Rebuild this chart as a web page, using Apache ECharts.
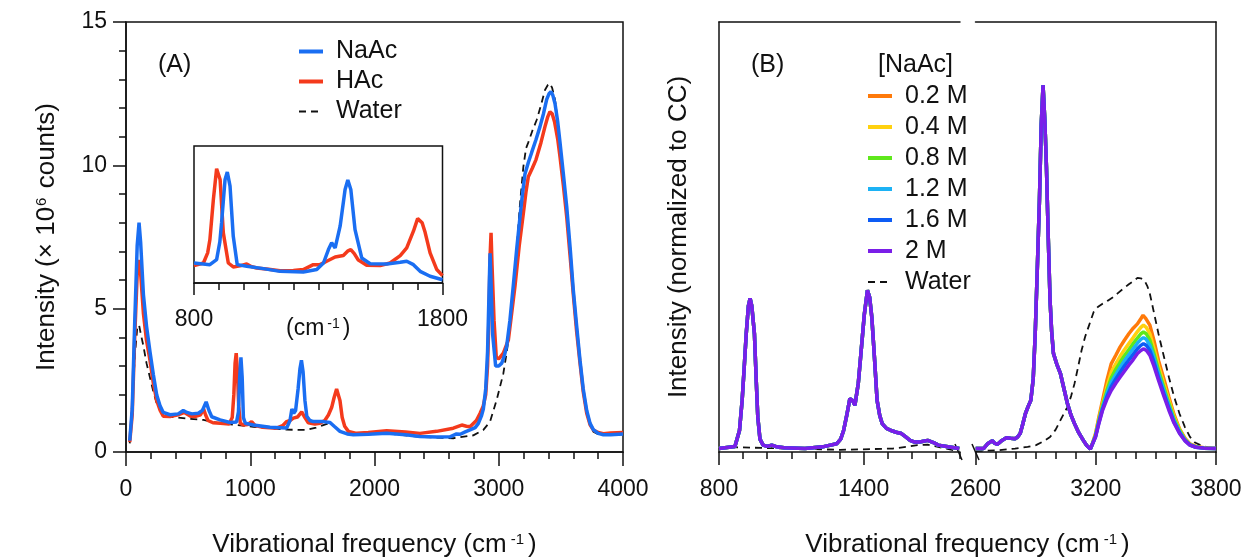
<!DOCTYPE html>
<html><head><meta charset="utf-8">
<script src="https://cdn.jsdelivr.net/npm/echarts@6/dist/echarts.min.js"></script>
<style>html,body{margin:0;padding:0;background:#fff}#c{width:1249px;height:560px}</style>
</head><body><div id="c"></div><script>
// ---------- Panel A: raw spectra [frequency cm-1, intensity x10^6 counts] ----------
const naacA = [[30,0.4],[50,1.5],[70,4.5],[90,7.2],[105,8.0],[118,7.3],[140,5.5],[165,4.4],[193,3.5],[220,2.7],[247,2.0],[275,1.6],[300,1.38],[354,1.3],[420,1.33],[461,1.45],[490,1.38],[530,1.33],[582,1.35],[615,1.45],[645,1.75],[668,1.45],[690,1.23],[757,1.12],[837,1.03],[890,1.05],[905,1.4],[915,2.6],[925,3.3],[935,2.6],[945,1.2],[960,1.0],[1025,0.94],[1159,0.86],[1293,0.84],[1320,1.1],[1335,1.5],[1350,1.35],[1365,1.45],[1385,2.2],[1400,2.9],[1412,3.2],[1425,2.8],[1440,1.8],[1455,1.25],[1480,1.1],[1508,1.06],[1588,1.06],[1642,1.03],[1680,0.88],[1722,0.72],[1780,0.63],[1830,0.6],[1950,0.62],[2098,0.65],[2250,0.6],[2366,0.54],[2500,0.52],[2608,0.53],[2660,0.63],[2690,0.62],[2730,0.7],[2769,0.77],[2810,0.85],[2836,1.0],[2860,1.25],[2876,1.5],[2895,2.2],[2910,3.5],[2922,5.6],[2930,6.93],[2938,5.9],[2951,4.1],[2975,3.0],[3000,3.0],[3024,3.1],[3045,3.35],[3064,3.7],[3090,4.6],[3117,5.8],[3145,7.1],[3171,8.2],[3191,9.0],[3211,9.7],[3238,10.1],[3265,10.45],[3300,10.9],[3332,11.35],[3360,11.8],[3386,12.3],[3405,12.5],[3420,12.57],[3435,12.45],[3453,12.15],[3475,11.5],[3493,10.8],[3520,9.7],[3547,8.56],[3575,7.1],[3600,5.65],[3627,4.4],[3654,3.2],[3680,2.2],[3708,1.45],[3735,1.0],[3761,0.78],[3800,0.65],[3842,0.6],[3900,0.6],[4000,0.63]];
const hacA = [[30,0.35],[50,1.3],[70,4.0],[90,6.2],[108,6.7],[120,6.1],[140,4.84],[165,3.9],[193,3.2],[220,2.4],[247,1.8],[275,1.45],[300,1.25],[354,1.24],[420,1.3],[470,1.38],[520,1.25],[560,1.24],[600,1.3],[625,1.5],[640,1.3],[660,1.1],[700,1.02],[760,1.0],[830,0.98],[855,1.2],[868,2.0],[878,3.1],[887,3.45],[897,2.8],[907,1.6],[920,1.0],[944,0.94],[980,0.96],[1011,1.06],[1040,0.92],[1100,0.86],[1213,0.83],[1260,0.92],[1293,1.06],[1320,1.1],[1347,1.18],[1380,1.22],[1414,1.4],[1440,1.2],[1467,1.02],[1520,0.98],[1561,1.0],[1600,1.1],[1629,1.29],[1655,1.55],[1675,1.9],[1695,2.2],[1708,2.2],[1722,1.8],[1740,1.2],[1760,0.9],[1790,0.72],[1856,0.65],[1950,0.68],[2098,0.74],[2250,0.7],[2366,0.65],[2500,0.72],[2634,0.83],[2702,0.94],[2740,0.9],[2769,0.88],[2820,1.1],[2850,1.35],[2875,1.6],[2895,2.0],[2910,3.0],[2920,4.5],[2930,6.8],[2938,7.65],[2946,6.5],[2962,4.6],[2980,3.3],[3000,3.25],[3037,3.45],[3077,3.9],[3100,4.7],[3131,5.8],[3165,7.2],[3198,8.33],[3220,9.1],[3238,9.6],[3270,9.9],[3300,10.2],[3340,10.8],[3372,11.35],[3395,11.7],[3412,11.87],[3430,11.8],[3450,11.5],[3475,10.9],[3493,10.3],[3520,9.3],[3547,8.2],[3575,6.8],[3600,5.5],[3627,4.2],[3654,3.1],[3680,2.1],[3708,1.35],[3735,0.95],[3761,0.77],[3800,0.68],[3842,0.64],[3900,0.66],[4000,0.68]];
const waterA = [[30,0.3],[50,1.8],[72,3.4],[90,4.3],[105,4.43],[120,4.1],[140,3.7],[165,3.1],[193,2.6],[220,2.1],[247,1.7],[275,1.45],[300,1.3],[380,1.22],[488,1.17],[622,1.12],[757,1.0],[1025,0.88],[1293,0.78],[1450,0.77],[1530,0.85],[1588,0.94],[1642,1.02],[1690,0.85],[1722,0.71],[1830,0.6],[2098,0.65],[2366,0.53],[2634,0.48],[2795,0.58],[2876,0.77],[2930,1.06],[2983,1.81],[3037,2.74],[3065,3.5],[3091,4.37],[3118,5.7],[3144,7.05],[3170,8.6],[3198,9.95],[3220,10.6],[3238,10.8],[3270,11.2],[3305,11.58],[3340,12.1],[3372,12.63],[3395,12.8],[3412,12.86],[3430,12.7],[3453,12.28],[3475,11.5],[3493,10.65],[3520,9.5],[3547,8.33],[3575,6.9],[3600,5.53],[3627,4.2],[3654,3.09],[3680,2.1],[3708,1.35],[3735,0.95],[3761,0.71],[3800,0.62],[3842,0.59],[3900,0.6],[4000,0.62]];

// ---------- Inset (800-1800 cm-1, arbitrary scale) ----------
const hacInset = [[800,0.127],[838,0.146],[855,0.22],[864,0.317],[878,0.61],[891,0.834],[905,0.756],[918,0.366],[938,0.146],[958,0.117],[985,0.125],[1012,0.139],[1030,0.12],[1052,0.11],[1100,0.1],[1146,0.09],[1200,0.092],[1240,0.098],[1280,0.134],[1307,0.134],[1334,0.159],[1368,0.19],[1401,0.2],[1420,0.235],[1431,0.244],[1445,0.215],[1460,0.17],[1495,0.129],[1549,0.127],[1589,0.146],[1630,0.2],[1656,0.256],[1683,0.378],[1700,0.47],[1707,0.476],[1718,0.44],[1730,0.37],[1750,0.22],[1777,0.098],[1800,0.054]];
const naacInset = [[800,0.146],[864,0.134],[891,0.171],[904,0.3],[911,0.44],[925,0.756],[934,0.81],[945,0.707],[958,0.341],[974,0.134],[1012,0.122],[1079,0.105],[1146,0.085],[1240,0.08],[1294,0.098],[1321,0.146],[1341,0.244],[1354,0.293],[1368,0.256],[1388,0.415],[1408,0.683],[1419,0.751],[1431,0.683],[1448,0.39],[1475,0.183],[1509,0.141],[1576,0.139],[1630,0.151],[1656,0.159],[1683,0.134],[1710,0.085],[1750,0.049],[1800,0.024]];

// ---------- Panel B: normalized spectra ----------
const concNames = ['0.2 M','0.4 M','0.8 M','1.2 M','1.6 M','2 M'];
const bFingerprint = [[800,0.08],[866,0.13],[885,0.5],[896,1.2],[905,2.0],[913,2.75],[922,3.4],[929,3.57],[936,3.4],[947,2.75],[955,1.6],[961,0.81],[970,0.3],[983,0.16],[1000,0.13],[1019,0.16],[1040,0.12],[1070,0.1],[1157,0.08],[1230,0.12],[1288,0.19],[1305,0.3],[1317,0.5],[1330,0.85],[1343,1.24],[1354,1.2],[1364,1.09],[1378,1.6],[1390,2.36],[1403,3.2],[1416,3.76],[1425,3.6],[1434,3.14],[1445,2.2],[1456,1.2],[1467,0.85],[1477,0.66],[1495,0.55],[1514,0.5],[1535,0.46],[1557,0.43],[1575,0.35],[1593,0.27],[1612,0.23],[1630,0.23],[1648,0.25],[1666,0.27],[1690,0.22],[1710,0.16],[1750,0.12],[1797,0.08]];
const bCH = [[2601,0.08],[2640,0.08],[2662,0.2],[2684,0.26],[2697,0.2],[2710,0.18],[2732,0.27],[2754,0.33],[2775,0.32],[2797,0.31],[2810,0.35],[2823,0.43],[2836,0.65],[2849,0.89],[2862,1.05],[2876,1.2],[2888,1.7],[2898,2.75],[2908,4.2],[2919,5.85],[2928,7.6],[2937,8.53],[2946,7.7],[2954,6.63],[2963,5.0],[2972,3.53],[2980,2.8],[2989,2.29],[3005,2.05],[3024,1.82],[3040,1.5],[3059,1.12],[3077,0.85],[3094,0.66],[3115,0.45],[3138,0.27],[3155,0.15],[3173,0.07]];
const bOH_02 = [[3185,0.22],[3199,0.43],[3215,0.8],[3234,1.2],[3255,1.65],[3277,2.05],[3300,2.25],[3321,2.44],[3343,2.6],[3365,2.75],[3387,2.88],[3408,2.98],[3425,3.1],[3436,3.18],[3450,3.1],[3470,2.95],[3490,2.6],[3513,2.13],[3540,1.7],[3565,1.28],[3590,0.88],[3618,0.54],[3645,0.32],[3670,0.19],[3700,0.13],[3740,0.1],[3800,0.08]];
const bOH_04 = [[3185,0.21],[3199,0.4],[3215,0.75],[3234,1.12],[3255,1.5],[3277,1.85],[3300,2.05],[3321,2.22],[3343,2.38],[3365,2.52],[3387,2.66],[3408,2.8],[3425,2.9],[3438,2.95],[3452,2.9],[3470,2.75],[3490,2.42],[3513,2.0],[3540,1.58],[3565,1.2],[3590,0.83],[3618,0.52],[3645,0.3],[3670,0.18],[3700,0.12],[3740,0.09],[3800,0.08]];
const bOH_08 = [[3185,0.21],[3199,0.38],[3215,0.72],[3234,1.07],[3255,1.42],[3277,1.72],[3300,1.92],[3321,2.08],[3343,2.24],[3365,2.38],[3387,2.52],[3408,2.65],[3425,2.75],[3438,2.79],[3452,2.75],[3470,2.6],[3490,2.3],[3513,1.9],[3540,1.5],[3565,1.13],[3590,0.78],[3618,0.5],[3645,0.29],[3670,0.17],[3700,0.12],[3740,0.09],[3800,0.08]];
const bOH_12 = [[3185,0.2],[3199,0.37],[3215,0.7],[3234,1.03],[3255,1.35],[3277,1.62],[3300,1.8],[3321,1.96],[3343,2.12],[3365,2.26],[3387,2.4],[3408,2.53],[3425,2.62],[3438,2.66],[3452,2.62],[3470,2.48],[3490,2.2],[3513,1.82],[3540,1.43],[3565,1.07],[3590,0.74],[3618,0.47],[3645,0.28],[3670,0.17],[3700,0.11],[3740,0.09],[3800,0.08]];
const bOH_16 = [[3185,0.2],[3199,0.36],[3215,0.67],[3234,1.0],[3255,1.28],[3277,1.52],[3300,1.7],[3321,1.85],[3343,2.0],[3365,2.14],[3387,2.27],[3408,2.4],[3425,2.48],[3438,2.52],[3452,2.48],[3470,2.36],[3490,2.1],[3513,1.74],[3540,1.36],[3565,1.02],[3590,0.7],[3618,0.45],[3645,0.27],[3670,0.16],[3700,0.11],[3740,0.09],[3800,0.08]];
const bOH_20 = [[3185,0.2],[3199,0.35],[3215,0.65],[3234,0.97],[3255,1.22],[3277,1.43],[3300,1.6],[3321,1.74],[3343,1.88],[3365,2.02],[3387,2.15],[3408,2.29],[3425,2.36],[3440,2.4],[3455,2.35],[3470,2.25],[3490,2.0],[3513,1.67],[3540,1.3],[3565,0.97],[3590,0.68],[3618,0.43],[3645,0.26],[3670,0.16],[3700,0.11],[3740,0.09],[3800,0.08]];
const bOH = [bOH_02, bOH_04, bOH_08, bOH_12, bOH_16, bOH_20];
const waterBLeft = [[800,0.12],[1015,0.09],[1303,0.05],[1521,0.08],[1580,0.12],[1623,0.16],[1666,0.17],[1700,0.13],[1739,0.08],[1797,0.02]];
const waterBRight = [[2601,0.02],[2710,0.04],[2797,0.08],[2860,0.12],[2902,0.16],[2940,0.25],[2972,0.35],[3000,0.52],[3024,0.74],[3042,0.9],[3059,1.05],[3077,1.3],[3094,1.59],[3112,1.98],[3129,2.36],[3147,2.68],[3164,2.91],[3178,3.1],[3190,3.26],[3210,3.37],[3234,3.45],[3260,3.52],[3286,3.6],[3312,3.7],[3338,3.8],[3365,3.9],[3390,3.98],[3408,4.05],[3425,4.04],[3443,3.99],[3458,3.85],[3470,3.68],[3490,3.25],[3513,2.75],[3540,2.22],[3565,1.74],[3590,1.3],[3618,0.89],[3645,0.58],[3670,0.35],[3695,0.22],[3722,0.16],[3760,0.11],[3800,0.08]];

// ---------- tick labels ----------
const xTicksA = [0,1000,2000,3000,4000];
const yTicksA = [0,5,10,15];
const xTicksBLeft = [800,1400];
const xTicksBRight = [2600,3200,3800];
const xTicksInset = [800,1800];

// ---------- styling ----------
const F = "'Liberation Sans', Arial, Helvetica, sans-serif";
const K = '#111';
const BLUE = '#1a6ef2', RED = '#f43a1c';
const concColors = ['#ff7a0a','#ffd10f','#5fe81c','#1cb2f5','#0d5cf5','#7a1ee8'];
const lineW = 3.5;
const axLine = {show:true, lineStyle:{color:K, width:1.5}};
const noSplit = {show:false};
const plain = v => String(v);
const supX = {sup:{fontSize:15, verticalAlign:'top', fontFamily:F, color:K, padding:[0,4,0,4]}};
const supY = {sup:{fontSize:15, verticalAlign:'top', fontFamily:F, color:K, padding:[0,2,0,1]}};
const xTitleStyle = {fontSize:26, fontFamily:F, color:K, rich:supX};
const yTitleStyle = {fontSize:26, fontFamily:F, color:K, rich:supY};
const labStyle = {fontSize:23, fontFamily:F, color:K, formatter:plain};

function ser(name, data, color, xi, yi, width, type) {
  return {type:'line', name, data, xAxisIndex:xi, yAxisIndex:yi, showSymbol:false, symbol:'none',
    lineStyle:{color, width, type: type || 'solid'}, itemStyle:{color}, silent:true, smooth:false};
}

const series = [];
series.push(ser('Water', waterA, K, 0, 0, 1.8, [7,5]));
series.push(ser('HAc', hacA, RED, 0, 0, lineW));
series.push(ser('NaAc', naacA, BLUE, 0, 0, lineW));
series.push(ser('HAc', hacInset, RED, 8, 4, lineW));
series.push(ser('NaAc', naacInset, BLUE, 8, 4, lineW));
series.push(ser('Water', waterBLeft, K, 1, 1, 1.8, [7,5]));
series.push(ser('Water', waterBRight, K, 4, 2, 1.8, [7,5]));
concNames.forEach((n, i) => {
  series.push(ser(n, bFingerprint, concColors[i], 1, 1, lineW));
  series.push(ser(n, bCH.concat(bOH[i]), concColors[i], 4, 2, lineW));
});

const gBase = {containLabel:false, outerBoundsMode:'none'};
const gA = Object.assign({left:126, top:22, width:497, height:430, show:true, borderColor:K, borderWidth:1.5, backgroundColor:'transparent'}, gBase);
const gBL = Object.assign({left:719, top:22, width:241, height:430}, gBase);
const gBR = Object.assign({left:975.5, top:22, width:240.5, height:430}, gBase);
const gBT = Object.assign({left:719, top:22, width:497, height:430}, gBase);
const gIn = Object.assign({left:194, top:146, width:248.5, height:137, show:true, borderColor:K, borderWidth:1.5, backgroundColor:'transparent'}, gBase);

function minorAx(grid, min, max, len, pos) {
  return {type:'value', gridIndex:grid, position:pos||'bottom', min, max, interval:100,
    axisLine:axLine, axisTick:{show:true, length:len, lineStyle:{color:K, width:1.5}},
    axisLabel:{show:false}, splitLine:noSplit};
}
function majorAx(grid, min, max, vals, len, margin) {
  return {type:'value', gridIndex:grid, position:'bottom', min, max,
    axisLine:{show:false}, axisTick:{show:true, customValues:vals, length:len, lineStyle:{color:K, width:1.5}},
    axisLabel:Object.assign({show:true, customValues:vals, margin}, labStyle), splitLine:noSplit};
}
function topAx(grid, min, max) {
  return {type:'value', gridIndex:grid, position:'top', min, max, axisLine:axLine,
    axisTick:{show:false}, axisLabel:{show:false}, splitLine:noSplit};
}

const xTitle = 'Vibrational frequency (cm{sup|-1})';
const legendCommon = {orient:'vertical', padding:0, itemWidth:24, itemHeight:1, selectedMode:false,
  itemStyle:{borderWidth:0, opacity:0},
  textStyle:{fontSize:25, fontFamily:F, color:K, lineHeight:25, padding:[0,0,0,8]}};
const solidLeg = n => ({name:n, lineStyle:{width:4}});
const dashLeg = n => ({name:n, lineStyle:{width:2}});

const option = {
  animation:false,
  backgroundColor:'#fff',
  textStyle:{fontFamily:F},
  title:[
    {text:'(A)', left:158, top:53, padding:0, textStyle:{fontSize:25, fontWeight:'normal', fontFamily:F, color:K}},
    {text:'(B)', left:751, top:53, padding:0, textStyle:{fontSize:25, fontWeight:'normal', fontFamily:F, color:K}},
    {text:'[NaAc]', left:878, top:53, padding:0, textStyle:{fontSize:25, fontWeight:'normal', fontFamily:F, color:K}}
  ],
  legend:[
    Object.assign({data:[solidLeg('NaAc'), solidLeg('HAc'), dashLeg('Water')], left:297, top:39, itemGap:5}, legendCommon),
    Object.assign({data:concNames.map(solidLeg).concat([dashLeg('Water')]), left:866, top:83.5, itemGap:6}, legendCommon)
  ],
  grid:[gA, gBL, gBR, gBT, gIn],
  xAxis:[
    // 0 panel A
    {type:'value', gridIndex:0, position:'bottom', min:xTicksA[0], max:xTicksA[xTicksA.length-1], interval:1000,
     axisLine:axLine, axisTick:{show:true, length:14, lineStyle:{color:K, width:1.5}},
     minorTick:{show:true, splitNumber:5, length:7, lineStyle:{color:K, width:1.5}},
     axisLabel:Object.assign({margin:26}, labStyle), splitLine:noSplit, minorSplitLine:{show:false},
     name:xTitle, nameLocation:'middle', nameGap:80, nameTextStyle:xTitleStyle, nameMoveOverlap:false},
    // 1 panel B left minor
    minorAx(1, 800, 1800, 7),
    // 2 panel B left major
    majorAx(1, 800, 1800, xTicksBLeft, 13, 26),
    // 3 panel B left top
    topAx(1, 800, 1800),
    // 4 panel B right minor
    minorAx(2, 2600, 3800, 7),
    // 5 panel B right major
    majorAx(2, 2600, 3800, xTicksBRight, 13, 26),
    // 6 panel B right top
    topAx(2, 2600, 3800),
    // 7 panel B title helper
    {type:'value', gridIndex:3, position:'bottom', min:0, max:1, axisLine:{show:false}, axisTick:{show:false},
     axisLabel:{show:false}, splitLine:noSplit,
     name:xTitle, nameLocation:'middle', nameGap:80, nameTextStyle:xTitleStyle, nameMoveOverlap:false},
    // 8 inset minor
    minorAx(4, 800, 1800, 7),
    // 9 inset major + labels
    Object.assign(majorAx(4, 800, 1800, xTicksInset, 12, 25),
      {name:'(cm{sup|-1})', nameLocation:'middle', nameGap:34, nameMoveOverlap:false,
       nameTextStyle:{fontSize:23, fontFamily:F, color:K, rich:{sup:{fontSize:14, verticalAlign:'top', fontFamily:F, color:K, padding:[0,3,0,3]}}}})
  ],
  yAxis:[
    {type:'value', gridIndex:0, position:'left', min:yTicksA[0], max:yTicksA[yTicksA.length-1], interval:5,
     axisLine:axLine, axisTick:{show:true, length:13, lineStyle:{color:K, width:1.5}},
     minorTick:{show:true, splitNumber:5, length:7, lineStyle:{color:K, width:1.5}},
     axisLabel:Object.assign({margin:19}, labStyle), splitLine:noSplit, minorSplitLine:{show:false},
     name:'Intensity (× 10{sup|6} counts)', nameLocation:'middle', nameGap:66, nameTextStyle:yTitleStyle, nameMoveOverlap:false},
    {type:'value', gridIndex:1, position:'left', min:0, max:10, axisLine:axLine, axisTick:{show:false},
     axisLabel:{show:false}, splitLine:noSplit,
     name:'Intensity (normalized to CC)', nameLocation:'middle', nameGap:27, nameTextStyle:yTitleStyle, nameMoveOverlap:false},
    {type:'value', gridIndex:2, position:'right', min:0, max:10, axisLine:axLine, axisTick:{show:false},
     axisLabel:{show:false}, splitLine:noSplit},
    {type:'value', gridIndex:3, show:false, min:0, max:1, splitLine:noSplit},
    {type:'value', gridIndex:4, show:false, min:0, max:1, splitLine:noSplit}
  ],
  graphic:[
    {type:'line', shape:{x1:955, y1:444, x2:962, y2:460}, style:{stroke:K, lineWidth:1.5}, silent:true},
    {type:'line', shape:{x1:972, y1:444, x2:979, y2:460}, style:{stroke:K, lineWidth:1.5}, silent:true}
  ],
  series
};

const chart = echarts.init(document.getElementById('c'), null, {renderer:'canvas'});
chart.setOption(option);
</script></body></html>
